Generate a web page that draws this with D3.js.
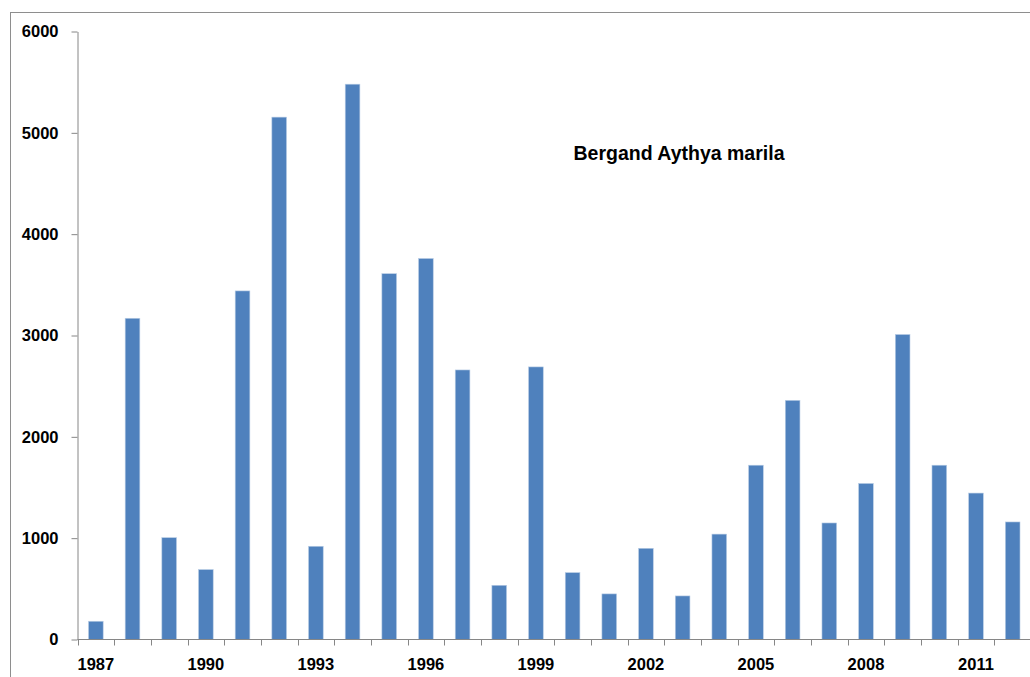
<!DOCTYPE html>
<html>
<head>
<meta charset="utf-8">
<script src="https://cdn.jsdelivr.net/npm/d3@7"></script>
<style>
  body { margin: 0; background: #fff; }
  svg { display: block; }
  text { font-family: "Liberation Sans", Arial, sans-serif; font-weight: bold; fill: #000; }
</style>
</head>
<body>
<svg></svg>
<script>
// data
var years = [1987, 1988, 1989, 1990, 1991, 1992, 1993, 1994, 1995, 1996, 1997, 1998, 1999,
             2000, 2001, 2002, 2003, 2004, 2005, 2006, 2007, 2008, 2009, 2010, 2011, 2012];
var counts = [180, 3170, 1005, 690, 3440, 5155, 920, 5480, 3610, 3760, 2660, 535, 2690,
              660, 450, 900, 430, 1040, 1720, 2360, 1150, 1540, 3010, 1720, 1445, 1160];
var yTicks = [0, 1000, 2000, 3000, 4000, 5000, 6000];
var xLabels = [1987, 1990, 1993, 1996, 1999, 2002, 2005, 2008, 2011];
var title = "Bergand Aythya marila";

var svgWidth = 1030, svgHeight = 677;
var plotLeft = 77.5, plotRight = 1031, plotTop = 31.5, plotBottom = 639.5;

var svg = d3.select('svg')
    .attr('width', svgWidth)
    .attr('height', svgHeight);

// outer chart border (runs off the right and bottom edges)
svg.append('rect')
    .attr('x', 10.5)
    .attr('y', 12.5)
    .attr('width', svgWidth)
    .attr('height', svgHeight)
    .attr('fill', 'none')
    .attr('stroke', '#8e8e8e')
    .attr('stroke-width', 1);

var x = d3.scaleBand()
    .domain(years)
    .range([plotLeft, plotRight])
    .paddingInner(0.6)
    .paddingOuter(0.3);

var y = d3.scaleLinear()
    .domain([0, 6000])
    .range([plotBottom, plotTop]);

// bars
svg.selectAll('rect.bar')
    .data(counts)
    .enter()
    .append('rect')
    .attr('class', 'bar')
    .attr('x', function(d, i) { return x(years[i]); })
    .attr('y', function(d) { return y(d); })
    .attr('width', x.bandwidth())
    .attr('height', function(d) { return plotBottom - y(d); })
    .attr('fill', '#4f81bd')
    .attr('stroke', '#b9cde5')
    .attr('stroke-width', 0.6);

// y axis
var yAxis = svg.append('g')
    .attr('transform', 'translate(' + plotLeft + ',0)')
    .call(d3.axisLeft(y).tickValues(yTicks).tickSize(6).tickSizeOuter(0).tickPadding(13).tickFormat(d3.format('d')));
yAxis.select('.domain').attr('stroke', '#868686');
yAxis.selectAll('.tick line').attr('stroke', '#868686');
yAxis.selectAll('text')
    .attr('font-size', '16.5px')
    .attr('font-family', '"Liberation Sans", Arial, sans-serif')
    .attr('font-weight', 'bold')
    .attr('fill', '#000');

// x axis: line, ticks at band edges, labels every 3 years
var step = x.step();
var xg = svg.append('g');
xg.append('line')
    .attr('x1', plotLeft)
    .attr('x2', plotRight)
    .attr('y1', plotBottom)
    .attr('y2', plotBottom)
    .attr('stroke', '#868686');

var edges = d3.range(years.length + 1);
xg.selectAll('line.tick')
    .data(edges)
    .enter()
    .append('line')
    .attr('class', 'tick')
    .attr('x1', function(i) { return Math.round(plotLeft + i * step) + 0.5; })
    .attr('x2', function(i) { return Math.round(plotLeft + i * step) + 0.5; })
    .attr('y1', plotBottom)
    .attr('y2', plotBottom + 6)
    .attr('stroke', '#868686');

xg.selectAll('text')
    .data(xLabels)
    .enter()
    .append('text')
    .attr('x', function(d) { return x(d) + x.bandwidth() / 2; })
    .attr('y', 670)
    .attr('text-anchor', 'middle')
    .attr('font-size', '16.5px')
    .text(function(d) { return d; });

// title
svg.append('text')
    .attr('x', 679)
    .attr('y', 159.5)
    .attr('text-anchor', 'middle')
    .attr('font-size', '19.5px')
    .text(title);
</script>
</body>
</html>
